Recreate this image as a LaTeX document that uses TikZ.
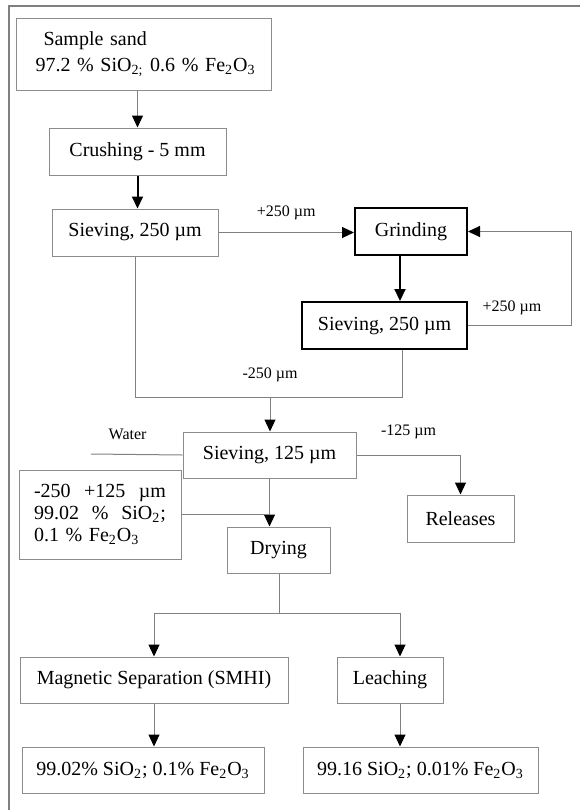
\documentclass[tikz,border=0pt]{standalone}
\usepackage{fontspec}
\setmainfont{Liberation Serif}
\usetikzlibrary{arrows.meta,calc}

\begin{document}
\begin{tikzpicture}[x=0.5pt,y=-0.5pt,
    box/.style={draw=black!45,line width=0.5pt,inner sep=0pt,minimum height=23.5pt,
      font=\fontsize{10}{12}\selectfont},
    heavy/.style={box,draw=black,line width=1pt},
    flow/.style={draw=black!50,line width=0.5pt,-{Triangle[color=black,length=6pt,width=5.5pt]}},
    boldflow/.style={flow,draw=black,line width=1pt},
    link/.style={draw=black!50,line width=0.5pt},
    lbl/.style={font=\fontsize{8}{9}\selectfont,inner sep=1pt},
    frame/.style={draw=black!50,line width=0.6pt}
  ]
  \useasboundingbox (0,0) rectangle (580,810);
  \draw [frame] (580,6) -| (9,810);

  % boxes
  \node [box,minimum width=127.5pt,minimum height=36pt,text width=120pt,align=left,
    font=\fontsize{10}{13}\selectfont] (sand) at (143.5,54)
    {\hspace*{10pt}Sample sand\\\hspace*{6pt}97.2 \% SiO\textsubscript{2;} 0.6 \% Fe\textsubscript{2}O\textsubscript{3}};
  \node [box,minimum width=88.5pt] (crush) at (137.5,151.5) {Crushing - 5 mm};
  \node [box,minimum width=83pt] (sieveA) at (135,232.5) {Sieving, 250 µm};
  \node [heavy,minimum width=56pt] (grind) at (411,231.5) {Grinding};
  \node [heavy,minimum width=82.5pt] (sieveB) at (384.5,325.5) {Sieving, 250 µm};
  \node [box,minimum width=86.5pt,minimum height=23pt] (sieveC) at (269.5,455) {Sieving, 125 µm};
  \node [box,minimum width=81pt,minimum height=44.5pt,text width=66pt,align=left,
    font=\fontsize{10}{11}\selectfont] (frac) at (100,514.5)
    {-250\hfill+125\hfill µm\\99.02\hfill\%\hfill SiO\textsubscript{2};\\0.1 \% Fe\textsubscript{2}O\textsubscript{3}};
  \node [box,minimum width=51.5pt,minimum height=23pt] (drying) at (278.5,550) {Drying};
  \node [box,minimum width=53.5pt] (releases) at (460.5,518.5) {Releases};
  \node [box,minimum width=134pt,minimum height=23pt] (magnet) at (154,680) {Magnetic Separation (SMHI)};
  \node [box,minimum width=53pt,minimum height=23pt] (leach) at (390,680) {Leaching};
  \node [box,minimum width=121pt,minimum height=23pt] (resA) at (143,770)
    {99.02\% SiO\textsubscript{2}; 0.1\% Fe\textsubscript{2}O\textsubscript{3}};
  \node [box,minimum width=117.5pt,minimum height=23pt] (resB) at (420.5,770)
    {99.16 SiO\textsubscript{2}; 0.01\% Fe\textsubscript{2}O\textsubscript{3}};

  % junction points
  \coordinate (merge) at (270,397);
  \coordinate (backB) at (402,397);
  \coordinate (loopR) at (571,330);
  \coordinate (water) at (91,454);
  \coordinate (split) at (279,613);
  \coordinate (leachIn) at ($(leach.north)+(10,0)$);
  \coordinate (leachOut) at ($(leach.south)+(10,0)$);
  \coordinate (grindOut) at ($(grind.south)+(-11,0)$);

  % connectors
  \draw [flow] (sand.south -| crush.north) -- (crush.north);
  \draw [boldflow] (crush.south) -- (crush.south |- sieveA.north);
  \draw [flow] (sieveA.east) -- (sieveA.east -| grind.west)
    node [lbl,midway,above=5pt] {+250 µm};
  \draw [boldflow] (grindOut) -- (grindOut |- sieveB.north);
  \draw [flow] (sieveB.east) -| (loopR |- grind.east) -- (grind.east);
  \node [lbl] (plusB) at (512,308) {+250 µm};
  \draw [link] (sieveA.south) |- (backB) -- (backB |- sieveB.south);
  \draw [flow] (merge) -- (merge |- sieveC.north);
  \node [lbl,above=6.5pt] (minusA) at (merge) {-250 µm};
  \draw [link] (water) -- (sieveC.west) node [lbl,pos=0.4,above=6pt] {Water};
  \draw [flow] (sieveC.east) -| (releases.north) node [lbl,pos=0.25,above=7pt] {-125 µm};
  \draw [flow] (sieveC.south) -- (sieveC.south |- drying.north);
  \draw [link] (frac.east) -- (frac.east -| sieveC.south);
  \draw [link] (drying.south -| split) -- (split);
  \draw [flow] (split) -| (magnet.north);
  \draw [flow] (split) -| (leachIn);
  \draw [flow] (magnet.south) -- (magnet.south |- resA.north);
  \draw [flow] (leachOut) -- (leachOut |- resB.north);
\end{tikzpicture}
\end{document}
